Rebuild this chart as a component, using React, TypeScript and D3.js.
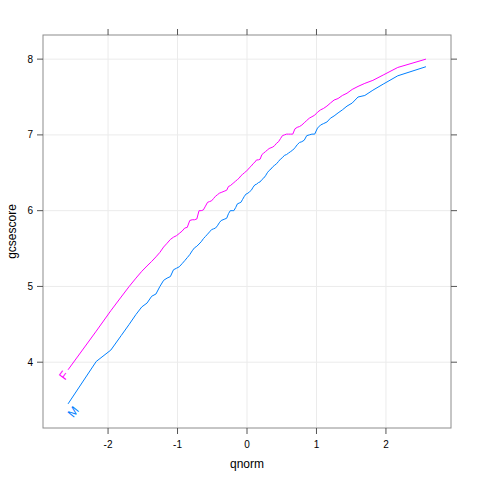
import React from "react";
import * as d3 from "d3";

// Sample quantiles of gcsescore (100 points, f.value = ppoints(100)) per gender
const groups = ["M", "F"];
const scoresF = [
  3.90, 4.41, 4.68, 4.86, 5.00, 5.11, 5.20, 5.27, 5.33, 5.39,
  5.45, 5.52, 5.57, 5.62, 5.65, 5.67, 5.70, 5.73, 5.77, 5.78,
  5.87, 5.88, 5.88, 5.89, 6.00, 6.00, 6.01, 6.06, 6.11, 6.12,
  6.13, 6.16, 6.19, 6.21, 6.23, 6.24, 6.25, 6.26, 6.27, 6.32,
  6.33, 6.35, 6.37, 6.39, 6.41, 6.43, 6.46, 6.48, 6.50, 6.52,
  6.54, 6.57, 6.59, 6.62, 6.64, 6.67, 6.67, 6.68, 6.74, 6.76,
  6.78, 6.80, 6.82, 6.83, 6.84, 6.86, 6.89, 6.91, 6.95, 6.99,
  7.00, 7.01, 7.01, 7.01, 7.01, 7.08, 7.10, 7.11, 7.13, 7.16,
  7.19, 7.22, 7.24, 7.26, 7.30, 7.33, 7.35, 7.38, 7.42, 7.46,
  7.48, 7.52, 7.55, 7.60, 7.64, 7.68, 7.72, 7.79, 7.89, 8.00,
];
const scoresM = [
  3.45, 4.01, 4.16, 4.35, 4.50, 4.63, 4.73, 4.78, 4.87, 4.90,
  5.00, 5.08, 5.11, 5.13, 5.22, 5.24, 5.26, 5.30, 5.34, 5.38,
  5.42, 5.47, 5.51, 5.53, 5.56, 5.59, 5.63, 5.66, 5.69, 5.72,
  5.75, 5.76, 5.77, 5.80, 5.84, 5.87, 5.88, 5.89, 5.90, 5.96,
  6.00, 6.00, 6.00, 6.04, 6.09, 6.10, 6.11, 6.15, 6.19, 6.22,
  6.23, 6.25, 6.27, 6.31, 6.34, 6.35, 6.37, 6.38, 6.41, 6.43,
  6.46, 6.50, 6.53, 6.55, 6.58, 6.60, 6.62, 6.65, 6.68, 6.70,
  6.73, 6.74, 6.76, 6.78, 6.80, 6.83, 6.87, 6.90, 6.91, 6.93,
  6.99, 7.00, 7.01, 7.01, 7.09, 7.13, 7.15, 7.17, 7.22, 7.25,
  7.29, 7.33, 7.38, 7.42, 7.50, 7.52, 7.59, 7.67, 7.78, 7.90,
];
const xTicks = [-2, -1, 0, 1, 2];
const yTicks = [4, 5, 6, 7, 8];
const colors: Record<string, string> = { M: "#0080ff", F: "#ff00ff" };

// inverse standard normal CDF (Acklam)
function qnorm(p: number): number {
  const a = [-39.69683028665376, 220.9460984245205, -275.9285104469687, 138.357751867269, -30.66479806614716, 2.506628277459239];
  const b = [-54.47609879822406, 161.5858368580409, -155.6989798598866, 66.80131188771972, -13.28068155288572];
  const c = [-0.007784894002430293, -0.3223964580411365, -2.400758277161838, -2.549732539343734, 4.374664141464968, 2.938163982698783];
  const d = [0.007784695709041462, 0.3224671290700398, 2.445134137142996, 3.754408661907416];
  const pl = 0.02425;
  if (p < pl) {
    const q = Math.sqrt(-2 * Math.log(p));
    return (((((c[0] * q + c[1]) * q + c[2]) * q + c[3]) * q + c[4]) * q + c[5]) / ((((d[0] * q + d[1]) * q + d[2]) * q + d[3]) * q + 1);
  }
  if (p > 1 - pl) {
    const q = Math.sqrt(-2 * Math.log(1 - p));
    return -(((((c[0] * q + c[1]) * q + c[2]) * q + c[3]) * q + c[4]) * q + c[5]) / ((((d[0] * q + d[1]) * q + d[2]) * q + d[3]) * q + 1);
  }
  const q = p - 0.5;
  const r = q * q;
  return ((((((a[0] * r + a[1]) * r + a[2]) * r + a[3]) * r + a[4]) * r + a[5]) * q) / (((((b[0] * r + b[1]) * r + b[2]) * r + b[3]) * r + b[4]) * r + 1);
}

export default function App() {
  const W = 480, H = 480;
  const left = 43, right = 451, top = 35, bottom = 428;
  const series: Record<string, number[]> = { M: scoresM, F: scoresF };
  const n = scoresF.length;
  const qx = d3.range(n).map((i) => qnorm((i + 0.5) / n));

  const xExt = d3.extent(qx) as [number, number];
  const allY = [...scoresF, ...scoresM];
  const yExt = d3.extent(allY) as [number, number];
  const pad = (e: [number, number]) => {
    const dd = e[1] - e[0];
    return [e[0] - 0.07 * dd, e[1] + 0.07 * dd];
  };
  const x = d3.scaleLinear().domain(pad(xExt)).range([left, right]);
  const y = d3.scaleLinear().domain(pad(yExt)).range([bottom, top]);

  const line = d3
    .line<number>()
    .x((_, i) => x(qx[i]))
    .y((v) => y(v));

  const font = "Liberation Sans, Arial, Helvetica, sans-serif";
  const tickLen = 6;
  const border = "#8c8c8c";
  const tickCol = "#555";

  const labelFor = (g: string) => {
    const vals = series[g];
    const x0 = x(qx[0]), y0 = y(vals[0]);
    const x1 = x(qx[2]), y1 = y(vals[2]);
    const ang = (Math.atan2(y1 - y0, x1 - x0) * 180) / Math.PI;
    const len = Math.hypot(x1 - x0, y1 - y0);
    const ux = (x1 - x0) / len;
    const uy = (y1 - y0) / len;
    const off = g === "F" ? 7 : 3;
    const side = g === "F" ? 0 : 9;
    const cx = x0 - ux * off - uy * side;
    const cy = y0 - uy * off + ux * side;
    return (
      <text
        key={"lab" + g}
        x={cx}
        y={cy}
        transform={`rotate(${ang} ${cx} ${cy})`}
        textAnchor="middle"
        dominantBaseline="central"
        fontFamily={font}
        fontSize={12}
        fill={colors[g]}
      >
        {g}
      </text>
    );
  };

  return (
    <svg width={W} height={H} style={{ position: "absolute", left: 0, top: 0, background: "#fff" }}>
      <rect x={0} y={0} width={W} height={H} fill="#fff" />
      {/* grid */}
      {xTicks.map((t) => (
        <line key={"gx" + t} x1={x(t)} x2={x(t)} y1={top} y2={bottom} stroke="#ebebeb" strokeWidth={1} />
      ))}
      {yTicks.map((t) => (
        <line key={"gy" + t} x1={left} x2={right} y1={y(t)} y2={y(t)} stroke="#ebebeb" strokeWidth={1} />
      ))}
      {/* series */}
      {groups.map((g) => (
        <path key={g} d={line(series[g]) || ""} fill="none" stroke={colors[g]} strokeWidth={1} />
      ))}
      {groups.map((g) => labelFor(g))}
      {/* border */}
      <rect x={left} y={top} width={right - left} height={bottom - top} fill="none" stroke={border} strokeWidth={1} />
      {/* ticks */}
      {xTicks.map((t) => (
        <g key={"tx" + t}>
          <line x1={x(t)} x2={x(t)} y1={bottom} y2={bottom + tickLen} stroke={tickCol} />
          <line x1={x(t)} x2={x(t)} y1={top} y2={top - tickLen} stroke={tickCol} />
          <text x={x(t)} y={bottom + 16} textAnchor="middle" dominantBaseline="central" fontFamily={font} fontSize={10} fill="#000">
            {t}
          </text>
        </g>
      ))}
      {yTicks.map((t) => (
        <g key={"ty" + t}>
          <line x1={left} x2={left - tickLen} y1={y(t)} y2={y(t)} stroke={tickCol} />
          <line x1={right} x2={right + tickLen} y1={y(t)} y2={y(t)} stroke={tickCol} />
          <text x={left - 10} y={y(t)} textAnchor="end" dominantBaseline="central" fontFamily={font} fontSize={10} fill="#000">
            {t}
          </text>
        </g>
      ))}
      {/* axis titles */}
      <text x={(left + right) / 2} y={464} textAnchor="middle" dominantBaseline="central" fontFamily={font} fontSize={12} fill="#000">
        qnorm
      </text>
      <text
        x={12}
        y={(top + bottom) / 2}
        transform={`rotate(-90 12 ${(top + bottom) / 2})`}
        textAnchor="middle"
        dominantBaseline="central"
        fontFamily={font}
        fontSize={12}
        fill="#000"
      >
        gcsescore
      </text>
    </svg>
  );
}
